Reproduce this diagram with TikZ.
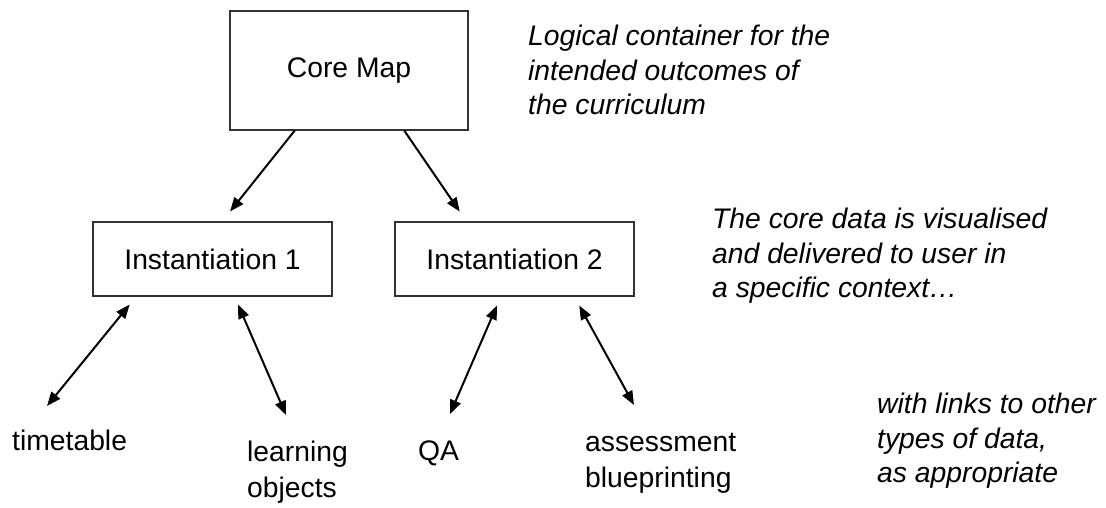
\documentclass[tikz,border=0pt]{standalone}
\usepackage{fontspec}
\setmainfont{Liberation Sans}
\usetikzlibrary{arrows.meta, positioning, calc}

\begin{document}
\begin{tikzpicture}[
        x=1pt, y=-1pt,
        >={Triangle[length=14pt, width=11pt]},
        box/.style={rectangle, draw=black!80, line width=1.1pt, inner sep=0pt, font=\fontsize{28.3}{34.5}\selectfont},
        remark/.style={anchor=north west, align=left, inner sep=0pt, font=\fontsize{28.3}{34.5}\selectfont\itshape},
        item/.style={anchor=north west, align=left, inner sep=0pt, font=\fontsize{28.3}{35.5}\selectfont},
        link/.style={line width=2pt}
    ]
        \useasboundingbox (0,0) rectangle (1106,507);

        \node[box, minimum width=238, minimum height=119] (core) at (349,70.5) {Core Map};
        \node[box, minimum width=239, minimum height=74] (inst1) at (212.5,259) {Instantiation 1};
        \node[box, minimum width=239, minimum height=74] (inst2) at (514.5,259) {Instantiation 2};

        % Notes on the right
        \node[remark] (notecore) at (528,25) {Logical container for the\\intended outcomes of\\the curriculum};
        \node[remark] (noteinst) at (712,208) {The core data is visualised\\and delivered to user in\\a specific context…};
        \node[remark] (notelinks) at (877,393) {with links to other\\types of data,\\as appropriate};

        % Other data
        \node[item] (timetable) at (12,430) {timetable};
        \node[item] (learning) at (247,441) {learning\\objects};
        \node[item] (qa) at (418,441) {QA};
        \node[item] (assess) at (585,433) {assessment\\blueprinting};

        \coordinate (ttend) at (47,406);
        \coordinate (loend) at (286,415);
        \coordinate (qaend) at (450,414);
        \coordinate (abend) at (634,405);

        % Edges
        \draw[link, ->, shorten >=12.8pt] ($(core.south west)!.273!(core.south east)$) -- ($(inst1.north west)!.54!(inst1.north east)$);
        \draw[link, ->, shorten >=12pt] ($(core.south west)!.731!(core.south east)$) -- ($(inst2.north west)!.30!(inst2.north east)$);
        \draw[link, <->, shorten <=10.3pt] ($(inst1.south west)!.182!(inst1.south east)$) -- (ttend);
        \draw[link, <->, shorten <=8.7pt] ($(inst1.south west)!.592!(inst1.south east)$) -- (loend);
        \draw[link, <->, shorten <=9.8pt] ($(inst2.south west)!.443!(inst2.south east)$) -- (qaend);
        \draw[link, <->, shorten <=10.3pt] ($(inst2.south west)!.749!(inst2.south east)$) -- (abend);
    \end{tikzpicture}
\end{document}
